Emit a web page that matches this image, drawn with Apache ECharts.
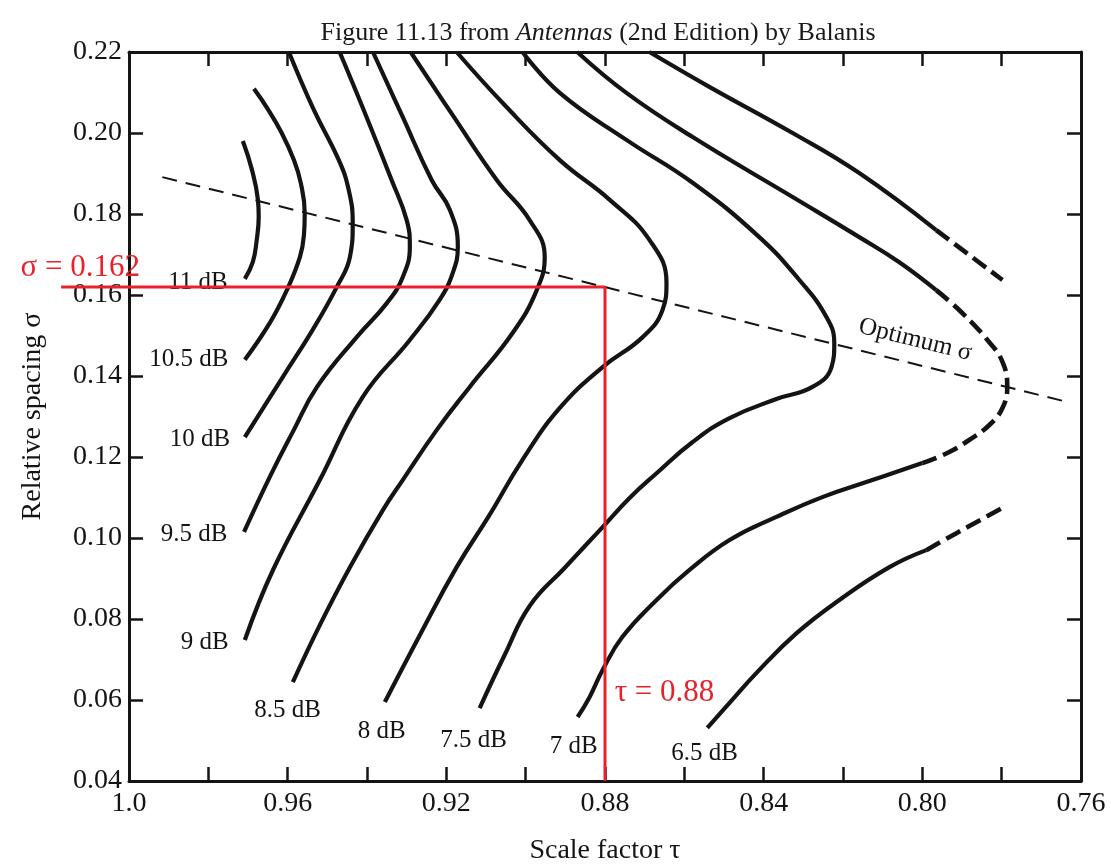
<!DOCTYPE html>
<html>
<head>
<meta charset="utf-8">
<script src="https://cdn.jsdelivr.net/npm/echarts@6/dist/echarts.min.js"></script>
<style>
html,body{margin:0;padding:0;background:#fff;}
#c{width:1111px;height:865px;}
</style>
</head>
<body>
<div id="c"></div>
<script>
// ---- axis ticks ----
const xTickValues = [1.0, 0.96, 0.92, 0.88, 0.84, 0.80, 0.76];
const xTickLabels = ['1.0', '0.96', '0.92', '0.88', '0.84', '0.80', '0.76'];
const yTickValues = [0.04, 0.06, 0.08, 0.10, 0.12, 0.14, 0.16, 0.18, 0.20, 0.22];
const yTickLabels = ['0.04', '0.06', '0.08', '0.10', '0.12', '0.14', '0.16', '0.18', '0.20', '0.22'];

// ---- contour curves [tau, sigma] ----
const curve11 = [[0.9713,0.1980],[0.9690,0.1909],[0.9675,0.1835],[0.9673,0.1793],[0.9678,0.1736],[0.9688,0.1681],[0.9708,0.1640]];
const curve10_5 = [[0.9685,0.2109],[0.9650,0.2059],[0.9615,0.2000],[0.9584,0.1933],[0.9567,0.1877],[0.9557,0.1802],[0.9559,0.1748],[0.9569,0.1694],[0.9602,0.1612],[0.9645,0.1531],[0.9708,0.1440]];
const curve10 = [[0.9597,0.2200],[0.9534,0.2057],[0.9471,0.1933],[0.9446,0.1859],[0.9436,0.1778],[0.9443,0.1694],[0.9476,0.1620],[0.9537,0.1514],[0.9612,0.1398],[0.9708,0.1249]];
const curve9_5 = [[0.9469,0.2200],[0.9403,0.2044],[0.9338,0.1884],[0.9300,0.1785],[0.9292,0.1719],[0.9310,0.1644],[0.9350,0.1580],[0.9426,0.1496],[0.9526,0.1373],[0.9587,0.1262],[0.9645,0.1151],[0.9710,0.1015]];
const curve9 = [[0.9385,0.2200],[0.9312,0.2044],[0.9237,0.1884],[0.9191,0.1810],[0.9171,0.1719],[0.9184,0.1654],[0.9217,0.1588],[0.9292,0.1489],[0.9411,0.1348],[0.9519,0.1143],[0.9637,0.0921],[0.9708,0.0748]];
const curve8_5 = [[0.9290,0.2200],[0.9184,0.2044],[0.9073,0.1884],[0.8990,0.1785],[0.8952,0.1694],[0.8972,0.1612],[0.9033,0.1506],[0.9141,0.1373],[0.9224,0.1267],[0.9310,0.1143],[0.9360,0.1069],[0.9443,0.0928],[0.9519,0.0785],[0.9587,0.0644]];
const curve8 = [[0.9174,0.2200],[0.9053,0.2069],[0.8914,0.1933],[0.8788,0.1835],[0.8688,0.1736],[0.8645,0.1630],[0.8655,0.1563],[0.8705,0.1496],[0.8806,0.1422],[0.8914,0.1321],[0.9008,0.1193],[0.9091,0.1057],[0.9174,0.0928],[0.9267,0.0760],[0.9355,0.0595]];
const curve7_5 = [[0.9008,0.2200],[0.8914,0.2099],[0.8746,0.1983],[0.8579,0.1877],[0.8411,0.1743],[0.8310,0.1637],[0.8242,0.1546],[0.8222,0.1481],[0.8229,0.1422],[0.8277,0.1373],[0.8368,0.1343],[0.8486,0.1296],[0.8579,0.1237],[0.8670,0.1160],[0.8738,0.1099],[0.8806,0.1027],[0.8902,0.0926],[0.8990,0.0832],[0.9053,0.0711],[0.9116,0.0580]];
const curve7Upper = [[0.8870,0.2200],[0.8746,0.2099],[0.8579,0.1990],[0.8327,0.1842],[0.8159,0.1743],[0.8058,0.1681],[0.7965,0.1612]];
const curve7Dashed = [[0.7965,0.1612],[0.7902,0.1558],[0.7836,0.1489],[0.7798,0.1435],[0.7786,0.1373],[0.7798,0.1321],[0.7831,0.1279],[0.7882,0.1242],[0.7937,0.1210],[0.8000,0.1185]];
const curve7Lower = [[0.8000,0.1185],[0.8126,0.1143],[0.8252,0.1101],[0.8368,0.1052],[0.8486,0.0995],[0.8587,0.0921],[0.8670,0.0847],[0.8756,0.0756],[0.8806,0.0674],[0.8839,0.0607],[0.8869,0.0558]];
const curve6_5Upper = [[0.8688,0.2200],[0.8537,0.2114],[0.8327,0.2000],[0.8159,0.1901],[0.7965,0.1760]];
const curve6_5UpperDashed = [[0.7965,0.1760],[0.7882,0.1699],[0.7798,0.1637]];
const curve6_5Lower = [[0.8542,0.0531],[0.8486,0.0593],[0.8418,0.0667],[0.8317,0.0765],[0.8209,0.0847],[0.8083,0.0928],[0.7990,0.0970]];
const curve6_5LowerDashed = [[0.7990,0.0970],[0.7914,0.1012],[0.7793,0.1077]];

// ---- optimum sigma line ----
const optimumLine = [[0.9916,0.1891],[0.7635,0.1336]];

// ---- design point (red) ----
const designTau = 0.88;
const designSigma = 0.162;
const designLeftTau = 1.0171;   // red line extends past the axis
const sigmaMin = 0.04;

// ---- labels ----
const contourLabelNames = ['11 dB','10.5 dB','10 dB','9.5 dB','9 dB','8.5 dB','8 dB','7.5 dB','7 dB','6.5 dB'];
const contourLabelTau =   [0.9826, 0.9849, 0.9821, 0.9836, 0.9809, 0.9600, 0.9363, 0.9131, 0.8879, 0.8549];
const contourLabelSigma = [0.1630, 0.1440, 0.1244, 0.1010, 0.0743, 0.0575, 0.0523, 0.0499, 0.0486, 0.0469];
const optimumLabel = {name: 'Optimum σ', tau: 0.8018, sigma: 0.1489};
const redLabelNames = ['σ = 0.162', 'τ = 0.88'];
const redLabelTau = [1.0123, 0.8650];
const redLabelSigma = [0.1667, 0.0617];

// ---------------------------------------------------------
const FONT = 'Liberation Serif, Times New Roman, serif';
const INK = '#141414';
const RED = '#e8212b';

// plot frame and an outer (hidden) frame sharing the same scale, used for the
// red annotation that runs past the left axis
const PLOT = {left: 129, top: 52, width: 952, height: 729};
const TAU_MIN = 0.76, TAU_MAX = 1.0;
const OUTER_TAU_MAX = TAU_MIN + (TAU_MAX - TAU_MIN) * (PLOT.left + PLOT.width) / PLOT.width;

function solid(name, data) {
  return {name, type: 'line', data, smooth: 0.45, showSymbol: false, silent: true,
    lineStyle: {width: 4.2, color: INK}, z: 3};
}
function dashed(name, data) {
  return {name, type: 'line', data, smooth: 0.45, showSymbol: false, silent: true,
    lineStyle: {width: 4.6, color: INK, type: [16, 7]}, z: 3};
}
function textSeries(name, names, taus, sigmas, style, extra) {
  return Object.assign({
    name, type: 'scatter', symbolSize: 0, silent: true, clip: false,
    itemStyle: {color: style.color, opacity: 1},
    data: names.map((n, i) => ({name: n, value: [taus[i], sigmas[i]]})),
    label: Object.assign({show: true, position: [0, 0], align: 'center', verticalAlign: 'middle',
      formatter: p => p.name, textBorderWidth: 0, opacity: 1, fontFamily: FONT}, style),
    emphasis: {disabled: true}
  }, extra || {});
}

const chart = echarts.init(document.getElementById('c'), null, {renderer: 'canvas'});

const axisLineStyle = {show: true, lineStyle: {color: INK, width: 3}};
const tickStyle = {show: true, inside: true, length: 14, lineStyle: {color: INK, width: 2.5}};

function xLabel(v) {
  for (let i = 0; i < xTickValues.length; i++) {
    if (Math.abs(v - xTickValues[i]) < 1e-6) return xTickLabels[i];
  }
  return '';
}
function yLabel(v) {
  for (let i = 0; i < yTickValues.length; i++) {
    if (Math.abs(v - yTickValues[i]) < 1e-6) return yTickLabels[i];
  }
  return '';
}

const option = {
  backgroundColor: '#ffffff',
  animation: false,
  title: {
    text: '{n|Figure 11.13 from }{i|Antennas}{n| (2nd Edition) by Balanis}',
    left: 593, top: 15, textAlign: 'center',
    textStyle: {
      fontWeight: 'normal',
      rich: {
        n: {fontFamily: FONT, fontSize: 26, color: '#1a1a1a', fontWeight: 'normal'},
        i: {fontFamily: FONT, fontSize: 26, color: '#1a1a1a', fontStyle: 'italic', fontWeight: 'normal'}
      }
    }
  },
  grid: [
    Object.assign({containLabel: false, outerBoundsMode: 'none'}, PLOT),
    {left: 0, top: PLOT.top, width: PLOT.left + PLOT.width, height: PLOT.height, containLabel: false, outerBoundsMode: 'none', show: false}
  ],
  xAxis: [
    {
      gridIndex: 0, type: 'value', inverse: true, min: TAU_MIN, max: TAU_MAX, interval: 0.02, position: 'bottom',
      axisLine: axisLineStyle, axisTick: tickStyle, splitLine: {show: false},
      axisLabel: {formatter: xLabel, fontFamily: FONT, fontSize: 28, color: INK, margin: 9},
      name: 'Scale factor τ', nameLocation: 'middle', nameGap: 56,
      nameTextStyle: {fontFamily: FONT, fontSize: 28, color: INK}
    },
    {
      gridIndex: 0, type: 'value', inverse: true, min: TAU_MIN, max: TAU_MAX, interval: 0.02, position: 'top',
      axisLine: axisLineStyle, axisTick: tickStyle, splitLine: {show: false},
      axisLabel: {show: false}
    },
    {
      gridIndex: 1, type: 'value', inverse: true, min: TAU_MIN, max: OUTER_TAU_MAX, show: false
    }
  ],
  yAxis: [
    {
      gridIndex: 0, type: 'value', min: 0.04, max: 0.22, interval: 0.02, position: 'left',
      axisLine: axisLineStyle, axisTick: tickStyle, splitLine: {show: false},
      axisLabel: {formatter: yLabel, fontFamily: FONT, fontSize: 28, color: INK, margin: 7},
      name: 'Relative spacing σ', nameLocation: 'middle', nameGap: 82,
      nameTextStyle: {fontFamily: FONT, fontSize: 28, color: INK}
    },
    {
      gridIndex: 0, type: 'value', min: 0.04, max: 0.22, interval: 0.02, position: 'right',
      axisLine: axisLineStyle, axisTick: tickStyle, splitLine: {show: false},
      axisLabel: {show: false}
    },
    {
      gridIndex: 1, type: 'value', min: 0.04, max: 0.22, show: false
    }
  ],
  series: [
    solid('11 dB', curve11),
    solid('10.5 dB', curve10_5),
    solid('10 dB', curve10),
    solid('9.5 dB', curve9_5),
    solid('9 dB', curve9),
    solid('8.5 dB', curve8_5),
    solid('8 dB', curve8),
    solid('7.5 dB', curve7_5),
    solid('7 dB upper', curve7Upper),
    dashed('7 dB dashed', curve7Dashed),
    solid('7 dB lower', curve7Lower),
    solid('6.5 dB upper', curve6_5Upper),
    dashed('6.5 dB upper dashed', curve6_5UpperDashed),
    solid('6.5 dB lower', curve6_5Lower),
    dashed('6.5 dB lower dashed', curve6_5LowerDashed),
    {
      name: 'Optimum', type: 'line', data: optimumLine, showSymbol: false, silent: true,
      lineStyle: {width: 2, color: INK, type: [15, 9]}, z: 2
    },
    {
      name: 'Design', type: 'line', xAxisIndex: 2, yAxisIndex: 2, clip: false, showSymbol: false, silent: true,
      data: [[designLeftTau, designSigma], [designTau, designSigma], [designTau, sigmaMin]],
      lineStyle: {width: 3, color: RED}, z: 5
    },
    textSeries('Contour labels', contourLabelNames, contourLabelTau, contourLabelSigma,
      {fontSize: 25, color: INK}),
    textSeries('Optimum label', [optimumLabel.name], [optimumLabel.tau], [optimumLabel.sigma],
      {fontSize: 25, color: INK, rotate: -14}),
    textSeries('Red labels', redLabelNames, redLabelTau, redLabelSigma,
      {fontSize: 31, color: RED}, {z: 6})
  ]
};
chart.setOption(option);
</script>
</body>
</html>
